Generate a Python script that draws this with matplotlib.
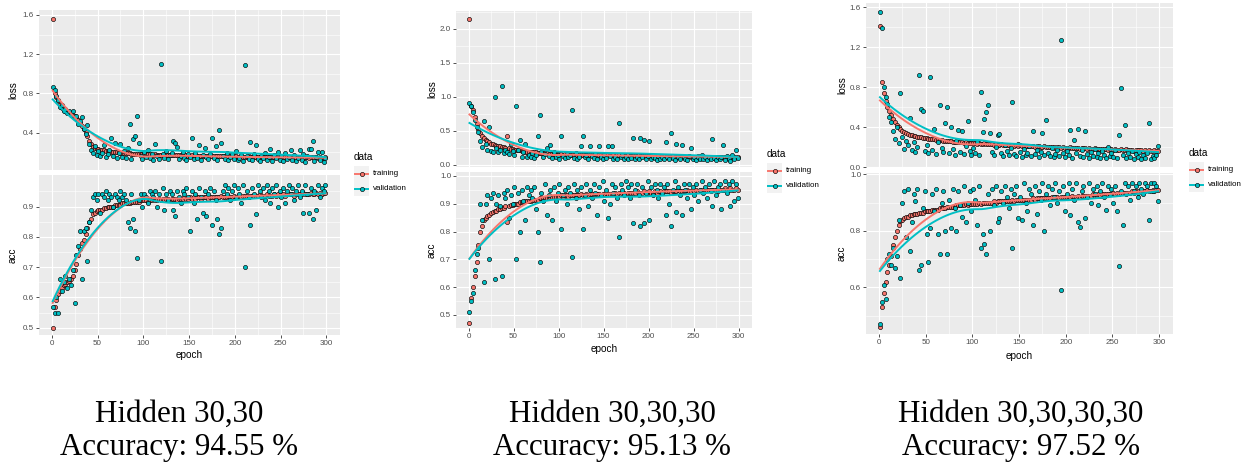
"""
Training history of three dense networks (keras-style loss / acc facets)
with the test accuracy of each network written underneath.
"""

import numpy as np
import matplotlib
matplotlib.use("Agg")
import matplotlib.pyplot as plt
from matplotlib.patches import Rectangle

plt.rcParams["font.family"] = "Liberation Sans"

W, H = 1250, 466

TRAIN_FILL = "#F8766D"
VAL_FILL = "#00BFC4"
PANEL_BG = "#EBEBEB"

# ---------------------------------------------------------------------------
# Data (every second epoch of the 300 training epochs)
# ---------------------------------------------------------------------------
epochs = np.arange(1, 301, 2)

hidden_layers = ["30,30", "30,30,30", "30,30,30,30"]
test_accuracy = [94.55, 95.13, 97.52]

loss_train_1 = [
    1.56, 0.80, 0.76, 0.72, 0.68, 0.65, 0.63, 0.62, 0.61, 0.60,
    0.60, 0.58, 0.57, 0.55, 0.53, 0.50, 0.47, 0.44, 0.41, 0.37,
    0.32, 0.28, 0.25, 0.24, 0.23, 0.23, 0.22, 0.22, 0.22, 0.21,
    0.21, 0.21, 0.20, 0.20, 0.20, 0.20, 0.20, 0.19, 0.19, 0.19,
    0.19, 0.19, 0.19, 0.18, 0.18, 0.18, 0.18, 0.18, 0.18, 0.18,
    0.18, 0.18, 0.18, 0.18, 0.17, 0.17, 0.18, 0.17, 0.17, 0.17,
    0.17, 0.17, 0.17, 0.17, 0.17, 0.17, 0.17, 0.17, 0.17, 0.17,
    0.17, 0.17, 0.16, 0.17, 0.16, 0.16, 0.17, 0.16, 0.16, 0.16,
    0.16, 0.16, 0.16, 0.16, 0.16, 0.16, 0.16, 0.16, 0.16, 0.16,
    0.16, 0.16, 0.16, 0.16, 0.16, 0.16, 0.15, 0.16, 0.16, 0.16,
    0.16, 0.15, 0.15, 0.16, 0.15, 0.15, 0.15, 0.16, 0.15, 0.15,
    0.15, 0.15, 0.15, 0.15, 0.15, 0.15, 0.15, 0.15, 0.15, 0.15,
    0.15, 0.15, 0.15, 0.15, 0.15, 0.15, 0.15, 0.15, 0.15, 0.15,
    0.15, 0.15, 0.15, 0.14, 0.15, 0.15, 0.15, 0.14, 0.15, 0.15,
    0.14, 0.15, 0.15, 0.14, 0.15, 0.14, 0.15, 0.14, 0.14, 0.15,
]
loss_val_1 = [
    0.87, 0.84, 0.77, 0.73, 0.66, 0.68, 0.62, 0.64, 0.60, 0.62,
    0.58, 0.62, 0.55, 0.57, 0.49, 0.52, 0.56, 0.44, 0.39, 0.48,
    0.28, 0.22, 0.19, 0.26, 0.17, 0.21, 0.16, 0.19, 0.27, 0.15,
    0.18, 0.22, 0.35, 0.16, 0.29, 0.14, 0.19, 0.28, 0.15, 0.21,
    0.14, 0.24, 0.49, 0.13, 0.34, 0.37, 0.57, 0.29, 0.16, 0.13,
    0.20, 0.15, 0.22, 0.14, 0.18, 0.12, 0.28, 0.16, 0.13, 1.10,
    0.18, 0.14, 0.21, 0.13, 0.17, 0.19, 0.32, 0.30, 0.25, 0.13,
    0.16, 0.20, 0.14, 0.12, 0.18, 0.15, 0.35, 0.13, 0.19, 0.14,
    0.27, 0.12, 0.17, 0.24, 0.15, 0.13, 0.18, 0.35, 0.14, 0.26,
    0.12, 0.43, 0.30, 0.16, 0.13, 0.19, 0.12, 0.15, 0.18, 0.13,
    0.21, 0.12, 0.14, 0.17, 0.11, 1.09, 0.16, 0.13, 0.31, 0.12,
    0.18, 0.27, 0.13, 0.11, 0.16, 0.14, 0.19, 0.12, 0.15, 0.23,
    0.11, 0.17, 0.14, 0.20, 0.12, 0.16, 0.11, 0.19, 0.13, 0.15,
    0.22, 0.12, 0.17, 0.11, 0.14, 0.22, 0.12, 0.18, 0.10, 0.16,
    0.23, 0.23, 0.32, 0.11, 0.15, 0.20, 0.12, 0.20, 0.10, 0.14,
]
acc_train_1 = [
    0.50, 0.57, 0.59, 0.61, 0.62, 0.63, 0.64, 0.645, 0.65, 0.655,
    0.66, 0.67, 0.69, 0.71, 0.74, 0.76, 0.78, 0.79, 0.81, 0.83,
    0.85, 0.86, 0.875, 0.88, 0.885, 0.89, 0.89, 0.89, 0.895, 0.895,
    0.90, 0.90, 0.90, 0.90, 0.905, 0.905, 0.905, 0.905, 0.91, 0.91,
    0.91, 0.91, 0.91, 0.915, 0.915, 0.915, 0.915, 0.915, 0.92, 0.92,
    0.92, 0.92, 0.915, 0.92, 0.92, 0.925, 0.92, 0.92, 0.925, 0.92,
    0.925, 0.92, 0.925, 0.925, 0.92, 0.925, 0.925, 0.925, 0.92, 0.925,
    0.925, 0.925, 0.93, 0.925, 0.925, 0.93, 0.925, 0.93, 0.925, 0.93,
    0.93, 0.925, 0.93, 0.93, 0.93, 0.925, 0.93, 0.93, 0.93, 0.93,
    0.93, 0.93, 0.935, 0.93, 0.93, 0.93, 0.935, 0.93, 0.93, 0.935,
    0.93, 0.935, 0.935, 0.93, 0.935, 0.935, 0.935, 0.93, 0.935, 0.935,
    0.935, 0.935, 0.935, 0.94, 0.935, 0.935, 0.935, 0.94, 0.935, 0.935,
    0.935, 0.94, 0.935, 0.94, 0.935, 0.94, 0.94, 0.935, 0.94, 0.94,
    0.94, 0.94, 0.935, 0.94, 0.94, 0.94, 0.94, 0.945, 0.94, 0.94,
    0.94, 0.945, 0.94, 0.94, 0.945, 0.94, 0.945, 0.94, 0.945, 0.945,
]
acc_val_1 = [
    0.57, 0.55, 0.60, 0.55, 0.66, 0.62, 0.65, 0.67, 0.63, 0.66,
    0.64, 0.69, 0.58, 0.74, 0.77, 0.82, 0.66, 0.82, 0.83, 0.72,
    0.85, 0.89, 0.93, 0.94, 0.92, 0.94, 0.88, 0.94, 0.93, 0.95,
    0.92, 0.94, 0.93, 0.90, 0.94, 0.93, 0.92, 0.95, 0.93, 0.94,
    0.92, 0.85, 0.83, 0.94, 0.86, 0.82, 0.73, 0.92, 0.94, 0.90,
    0.94, 0.93, 0.91, 0.95, 0.94, 0.93, 0.95, 0.90, 0.94, 0.72,
    0.96, 0.89, 0.94, 0.92, 0.95, 0.94, 0.89, 0.87, 0.95, 0.93,
    0.91, 0.95, 0.94, 0.96, 0.93, 0.82, 0.95, 0.91, 0.94, 0.86,
    0.96, 0.93, 0.88, 0.95, 0.87, 0.94, 0.96, 0.84, 0.95, 0.92,
    0.86, 0.81, 0.83, 0.95, 0.97, 0.94, 0.96, 0.92, 0.95, 0.97,
    0.93, 0.96, 0.94, 0.91, 0.97, 0.70, 0.95, 0.93, 0.84, 0.96,
    0.94, 0.875, 0.97, 0.95, 0.93, 0.96, 0.92, 0.97, 0.95, 0.91,
    0.96, 0.94, 0.97, 0.90, 0.95, 0.93, 0.96, 0.91, 0.95, 0.97,
    0.94, 0.96, 0.92, 0.95, 0.97, 0.93, 0.95, 0.88, 0.97, 0.94,
    0.88, 0.96, 0.86, 0.95, 0.89, 0.97, 0.93, 0.96, 0.95, 0.97,
]

loss_train_2 = [
    2.15, 0.87, 0.80, 0.70, 0.60, 0.52, 0.46, 0.42, 0.39, 0.37,
    0.35, 0.33, 0.31, 0.30, 0.29, 0.28, 0.28, 0.27, 0.26, 0.26,
    0.25, 0.42, 0.24, 0.23, 0.23, 0.22, 0.22, 0.21, 0.21, 0.20,
    0.20, 0.19, 0.19, 0.19, 0.18, 0.18, 0.18, 0.18, 0.17, 0.17,
    0.17, 0.17, 0.17, 0.17, 0.16, 0.16, 0.16, 0.16, 0.16, 0.16,
    0.16, 0.16, 0.15, 0.16, 0.15, 0.15, 0.15, 0.15, 0.15, 0.15,
    0.15, 0.15, 0.15, 0.14, 0.15, 0.15, 0.14, 0.15, 0.14, 0.14,
    0.14, 0.14, 0.14, 0.14, 0.14, 0.14, 0.14, 0.14, 0.14, 0.14,
    0.14, 0.13, 0.14, 0.14, 0.13, 0.14, 0.13, 0.13, 0.14, 0.13,
    0.13, 0.13, 0.13, 0.13, 0.14, 0.13, 0.13, 0.13, 0.13, 0.13,
    0.13, 0.13, 0.12, 0.13, 0.13, 0.13, 0.12, 0.13, 0.13, 0.12,
    0.13, 0.12, 0.12, 0.13, 0.12, 0.12, 0.13, 0.12, 0.12, 0.12,
    0.12, 0.12, 0.13, 0.12, 0.12, 0.12, 0.12, 0.13, 0.12, 0.12,
    0.12, 0.12, 0.12, 0.11, 0.12, 0.12, 0.12, 0.11, 0.12, 0.12,
    0.12, 0.11, 0.12, 0.11, 0.12, 0.11, 0.12, 0.11, 0.11, 0.12,
]
loss_val_2 = [
    0.91, 0.86, 0.78, 0.66, 0.55, 0.48, 0.35, 0.26, 0.65, 0.30,
    0.22, 0.56, 0.20, 0.19, 1.00, 0.24, 0.18, 0.22, 1.16, 0.17,
    0.21, 0.19, 0.16, 0.30, 0.20, 0.14, 0.87, 0.22, 0.36, 0.12,
    0.18, 0.31, 0.11, 0.15, 0.12, 0.17, 0.10, 0.14, 0.43, 0.73,
    0.19, 0.11, 0.16, 0.25, 0.13, 0.29, 0.10, 0.18, 0.12, 0.15,
    0.09, 0.43, 0.13, 0.10, 0.16, 0.11, 0.14, 0.80, 0.10, 0.17,
    0.09, 0.12, 0.28, 0.42, 0.11, 0.15, 0.09, 0.27, 0.13, 0.10,
    0.16, 0.08, 0.27, 0.12, 0.09, 0.14, 0.10, 0.27, 0.13, 0.27,
    0.09, 0.12, 0.08, 0.61, 0.11, 0.14, 0.09, 0.12, 0.08, 0.13,
    0.10, 0.39, 0.09, 0.12, 0.08, 0.39, 0.11, 0.36, 0.09, 0.13,
    0.35, 0.08, 0.12, 0.10, 0.07, 0.13, 0.09, 0.11, 0.08, 0.34,
    0.12, 0.09, 0.46, 0.10, 0.07, 0.30, 0.11, 0.08, 0.29, 0.12,
    0.09, 0.07, 0.13, 0.25, 0.08, 0.11, 0.07, 0.12, 0.09, 0.14,
    0.08, 0.11, 0.07, 0.12, 0.09, 0.38, 0.10, 0.07, 0.12, 0.08,
    0.11, 0.29, 0.07, 0.13, 0.09, 0.06, 0.15, 0.08, 0.22, 0.10,
]
acc_train_2 = [
    0.47, 0.56, 0.60, 0.64, 0.69, 0.75, 0.80, 0.82, 0.84, 0.85,
    0.855, 0.86, 0.865, 0.87, 0.875, 0.875, 0.88, 0.88, 0.885, 0.885,
    0.89, 0.835, 0.89, 0.895, 0.895, 0.90, 0.90, 0.90, 0.905, 0.905,
    0.905, 0.91, 0.91, 0.91, 0.91, 0.915, 0.915, 0.915, 0.915, 0.92,
    0.92, 0.92, 0.92, 0.92, 0.92, 0.925, 0.925, 0.925, 0.925, 0.925,
    0.925, 0.93, 0.925, 0.93, 0.93, 0.925, 0.93, 0.93, 0.93, 0.93,
    0.93, 0.93, 0.935, 0.93, 0.93, 0.935, 0.93, 0.935, 0.935, 0.93,
    0.935, 0.935, 0.935, 0.93, 0.935, 0.935, 0.94, 0.935, 0.935, 0.935,
    0.935, 0.94, 0.935, 0.94, 0.935, 0.94, 0.94, 0.935, 0.94, 0.94,
    0.94, 0.94, 0.94, 0.945, 0.94, 0.94, 0.94, 0.945, 0.94, 0.94,
    0.945, 0.94, 0.94, 0.945, 0.94, 0.945, 0.945, 0.94, 0.945, 0.945,
    0.945, 0.945, 0.94, 0.945, 0.945, 0.945, 0.95, 0.945, 0.945, 0.945,
    0.945, 0.95, 0.945, 0.945, 0.95, 0.945, 0.95, 0.945, 0.95, 0.945,
    0.95, 0.945, 0.95, 0.95, 0.945, 0.95, 0.95, 0.95, 0.945, 0.95,
    0.95, 0.95, 0.955, 0.95, 0.95, 0.955, 0.95, 0.95, 0.955, 0.95,
]
acc_val_2 = [
    0.51, 0.55, 0.58, 0.66, 0.72, 0.74, 0.90, 0.84, 0.62, 0.90,
    0.93, 0.70, 0.92, 0.94, 0.63, 0.90, 0.93, 0.89, 0.64, 0.94,
    0.92, 0.95, 0.85, 0.93, 0.90, 0.96, 0.70, 0.94, 0.80, 0.95,
    0.91, 0.84, 0.96, 0.93, 0.95, 0.92, 0.96, 0.88, 0.80, 0.69,
    0.94, 0.91, 0.97, 0.86, 0.93, 0.95, 0.84, 0.96, 0.91, 0.94,
    0.97, 0.81, 0.93, 0.95, 0.90, 0.96, 0.94, 0.71, 0.97, 0.92,
    0.95, 0.88, 0.96, 0.81, 0.93, 0.97, 0.89, 0.95, 0.92, 0.97,
    0.94, 0.86, 0.96, 0.93, 0.98, 0.91, 0.95, 0.85, 0.90, 0.97,
    0.94, 0.96, 0.92, 0.78, 0.97, 0.95, 0.93, 0.98, 0.96, 0.92,
    0.97, 0.83, 0.95, 0.97, 0.93, 0.82, 0.96, 0.83, 0.94, 0.98,
    0.84, 0.96, 0.93, 0.97, 0.95, 0.92, 0.97, 0.94, 0.96, 0.86,
    0.97, 0.90, 0.82, 0.95, 0.98, 0.87, 0.96, 0.93, 0.86, 0.97,
    0.95, 0.92, 0.97, 0.88, 0.96, 0.93, 0.97, 0.91, 0.95, 0.98,
    0.94, 0.96, 0.92, 0.97, 0.95, 0.89, 0.98, 0.93, 0.96, 0.97,
    0.88, 0.95, 0.98, 0.94, 0.97, 0.89, 0.98, 0.91, 0.97, 0.92,
]

loss_train_3 = [
    1.41, 0.85, 0.74, 0.66, 0.60, 0.56, 0.52, 0.48, 0.45, 0.42,
    0.40, 0.38, 0.36, 0.35, 0.34, 0.33, 0.32, 0.32, 0.31, 0.31,
    0.30, 0.30, 0.30, 0.29, 0.29, 0.29, 0.28, 0.28, 0.28, 0.28,
    0.27, 0.27, 0.27, 0.27, 0.26, 0.26, 0.26, 0.26, 0.26, 0.25,
    0.25, 0.25, 0.25, 0.25, 0.25, 0.24, 0.25, 0.24, 0.24, 0.24,
    0.24, 0.24, 0.23, 0.24, 0.23, 0.23, 0.24, 0.23, 0.23, 0.23,
    0.23, 0.22, 0.23, 0.22, 0.22, 0.23, 0.22, 0.22, 0.22, 0.22,
    0.22, 0.22, 0.21, 0.22, 0.21, 0.22, 0.21, 0.21, 0.21, 0.21,
    0.21, 0.21, 0.21, 0.20, 0.21, 0.21, 0.20, 0.20, 0.21, 0.20,
    0.20, 0.20, 0.20, 0.20, 0.19, 0.20, 0.20, 0.19, 0.20, 0.19,
    0.19, 0.19, 0.20, 0.19, 0.19, 0.19, 0.19, 0.18, 0.19, 0.19,
    0.19, 0.18, 0.19, 0.18, 0.18, 0.19, 0.18, 0.18, 0.18, 0.18,
    0.18, 0.18, 0.17, 0.18, 0.18, 0.17, 0.18, 0.17, 0.17, 0.18,
    0.17, 0.17, 0.18, 0.17, 0.17, 0.17, 0.16, 0.17, 0.17, 0.17,
    0.17, 0.16, 0.17, 0.16, 0.17, 0.16, 0.16, 0.17, 0.16, 0.16,
]
loss_val_3 = [
    1.55, 1.39, 0.80, 0.70, 0.63, 0.50, 0.45, 0.36, 0.28, 0.40,
    0.24, 0.74, 0.30, 0.18, 0.26, 0.22, 0.49, 0.17, 0.25, 0.15,
    0.20, 0.92, 0.58, 0.56, 0.16, 0.22, 0.14, 0.90, 0.17, 0.38,
    0.13, 0.25, 0.62, 0.19, 0.15, 0.44, 0.60, 0.14, 0.40, 0.18,
    0.12, 0.26, 0.37, 0.15, 0.36, 0.13, 0.21, 0.46, 0.16, 0.12,
    0.19, 0.14, 0.25, 0.12, 0.75, 0.35, 0.48, 0.55, 0.62, 0.34,
    0.15, 0.12, 0.20, 0.32, 0.33, 0.14, 0.11, 0.22, 0.16, 0.12,
    0.19, 0.65, 0.13, 0.11, 0.23, 0.15, 0.10, 0.18, 0.12, 0.14,
    0.21, 0.11, 0.36, 0.13, 0.17, 0.10, 0.15, 0.34, 0.12, 0.47,
    0.14, 0.11, 0.19, 0.10, 0.13, 0.17, 0.11, 1.27, 0.14, 0.10,
    0.16, 0.12, 0.37, 0.09, 0.27, 0.14, 0.38, 0.11, 0.17, 0.10,
    0.36, 0.13, 0.09, 0.15, 0.11, 0.18, 0.10, 0.14, 0.09, 0.16,
    0.12, 0.09, 0.20, 0.11, 0.14, 0.10, 0.17, 0.09, 0.32, 0.79,
    0.12, 0.42, 0.09, 0.14, 0.10, 0.16, 0.08, 0.13, 0.10, 0.15,
    0.08, 0.12, 0.09, 0.14, 0.44, 0.08, 0.11, 0.09, 0.12, 0.21,
]
acc_train_3 = [
    0.46, 0.53, 0.58, 0.62, 0.655, 0.68, 0.71, 0.75, 0.78, 0.80,
    0.82, 0.835, 0.84, 0.845, 0.85, 0.85, 0.855, 0.855, 0.86, 0.86,
    0.86, 0.865, 0.865, 0.865, 0.87, 0.87, 0.87, 0.87, 0.875, 0.875,
    0.875, 0.875, 0.88, 0.88, 0.88, 0.88, 0.885, 0.885, 0.885, 0.885,
    0.885, 0.89, 0.89, 0.89, 0.89, 0.89, 0.895, 0.89, 0.895, 0.895,
    0.895, 0.895, 0.895, 0.90, 0.895, 0.90, 0.90, 0.90, 0.90, 0.90,
    0.90, 0.905, 0.90, 0.905, 0.905, 0.905, 0.905, 0.905, 0.905, 0.905,
    0.905, 0.91, 0.905, 0.91, 0.91, 0.91, 0.91, 0.91, 0.91, 0.91,
    0.91, 0.91, 0.915, 0.91, 0.915, 0.915, 0.915, 0.915, 0.915, 0.915,
    0.915, 0.915, 0.92, 0.915, 0.92, 0.92, 0.915, 0.92, 0.92, 0.92,
    0.92, 0.92, 0.92, 0.925, 0.92, 0.92, 0.925, 0.92, 0.925, 0.925,
    0.925, 0.925, 0.925, 0.925, 0.93, 0.925, 0.925, 0.93, 0.925, 0.93,
    0.93, 0.93, 0.93, 0.93, 0.93, 0.935, 0.93, 0.935, 0.93, 0.935,
    0.935, 0.935, 0.935, 0.935, 0.935, 0.94, 0.935, 0.94, 0.935, 0.94,
    0.94, 0.94, 0.94, 0.945, 0.94, 0.94, 0.945, 0.94, 0.945, 0.945,
]
acc_val_3 = [
    0.47, 0.55, 0.61, 0.56, 0.70, 0.72, 0.68, 0.74, 0.67, 0.71,
    0.84, 0.635, 0.90, 0.94, 0.78, 0.95, 0.73, 0.83, 0.93, 0.905,
    0.95, 0.66, 0.68, 0.88, 0.94, 0.79, 0.69, 0.81, 0.93, 0.87,
    0.95, 0.79, 0.72, 0.90, 0.94, 0.80, 0.72, 0.91, 0.81, 0.95,
    0.88, 0.80, 0.94, 0.89, 0.85, 0.96, 0.83, 0.90, 0.94, 0.87,
    0.95, 0.91, 0.82, 0.96, 0.74, 0.79, 0.755, 0.72, 0.93, 0.80,
    0.95, 0.89, 0.96, 0.83, 0.845, 0.94, 0.90, 0.96, 0.92, 0.88,
    0.95, 0.74, 0.93, 0.96, 0.845, 0.92, 0.84, 0.97, 0.90, 0.87,
    0.95, 0.93, 0.82, 0.96, 0.86, 0.94, 0.91, 0.97, 0.80, 0.93,
    0.96, 0.89, 0.95, 0.92, 0.97, 0.90, 0.94, 0.59, 0.96, 0.87,
    0.93, 0.97, 0.855, 0.95, 0.91, 0.97, 0.83, 0.815, 0.94, 0.96,
    0.845, 0.92, 0.97, 0.90, 0.95, 0.93, 0.96, 0.89, 0.94, 0.97,
    0.92, 0.875, 0.96, 0.93, 0.95, 0.90, 0.96, 0.87, 0.676, 0.94,
    0.82, 0.97, 0.93, 0.96, 0.91, 0.97, 0.94, 0.96, 0.92, 0.97,
    0.95, 0.93, 0.97, 0.96, 0.84, 0.97, 0.94, 0.97, 0.96, 0.905,
]

RUNS = [
    (loss_train_1, loss_val_1, acc_train_1, acc_val_1),
    (loss_train_2, loss_val_2, acc_train_2, acc_val_2),
    (loss_train_3, loss_val_3, acc_train_3, acc_val_3),
]

# ---------------------------------------------------------------------------
# Layout (figure pixels, y measured from the top)
# ---------------------------------------------------------------------------
LAYOUT = [
    dict(x0=39, x1=340, loss=(10, 170), acc=(175, 335), strip_x=13,
         xlabel_y=355, legend=(354, 157), caption_x=179),
    dict(x0=456, x1=752, loss=(11, 167), acc=(172, 328), strip_x=432,
         xlabel_y=349, legend=(767, 154), caption_x=612),
    dict(x0=866, x1=1173, loss=(3, 167), acc=(173, 334), strip_x=842,
         xlabel_y=356, legend=(1189, 153), caption_x=1021),
]
LOSS_SCALE = [
    ((0.02, 1.65), [0.4, 0.8, 1.2, 1.6], [0.2, 0.6, 1.0, 1.4]),
    ((-0.034, 2.265), [0.0, 0.5, 1.0, 1.5, 2.0], [0.25, 0.75, 1.25, 1.75, 2.25]),
    ((0.003, 1.643), [0.0, 0.4, 0.8, 1.2, 1.6], [0.2, 0.6, 1.0, 1.4]),
]
ACC_SCALE = [
    ((0.476, 1.004), [0.5, 0.6, 0.7, 0.8, 0.9], [0.55, 0.65, 0.75, 0.85, 0.95]),
    ((0.453, 1.014), [0.5, 0.6, 0.7, 0.8, 0.9, 1.0], [0.55, 0.65, 0.75, 0.85, 0.95]),
    ((0.435, 1.005), [0.6, 0.8, 1.0], [0.5, 0.7, 0.9]),
]
XLIM = (1 - 14.95, 300 + 14.95)
X_MAJOR = [0, 50, 100, 150, 200, 250, 300]
X_MINOR = [25, 75, 125, 175, 225, 275]


def loess(x, y, x_new, span=0.75):
    """Local quadratic fit with tricube weights (R's loess defaults)."""
    x = np.asarray(x, float)
    y = np.asarray(y, float)
    n = len(x)
    q = int(np.floor(n * span))
    fitted = np.empty(len(x_new))
    for i, x0 in enumerate(x_new):
        d = np.abs(x - x0)
        h = np.sort(d)[q - 1]
        w = np.clip(1 - (d / h) ** 3, 0, None) ** 3
        sw = np.sqrt(w)
        X = np.column_stack([np.ones(n), x - x0, (x - x0) ** 2])
        coef = np.linalg.lstsq(X * sw[:, None], y * sw, rcond=None)[0]
        fitted[i] = coef[0]
    return fitted


def px_axes(fig, left, top, right, bottom):
    return fig.add_axes([left / W, 1 - bottom / H, (right - left) / W, (bottom - top) / H])


def style_facet(ax, scale, show_x):
    ylim, yticks, yminor = scale
    ax.set_facecolor(PANEL_BG)
    for s in ax.spines.values():
        s.set_visible(False)
    ax.set_xlim(XLIM)
    ax.set_ylim(ylim)
    ax.set_xticks(X_MAJOR)
    ax.set_xticks(X_MINOR, minor=True)
    ax.set_yticks(yticks)
    ax.set_yticks(yminor, minor=True)
    ax.set_yticklabels([f"{t:.1f}" for t in yticks])
    ax.set_axisbelow(True)
    ax.grid(which="major", color="white", linewidth=0.85)
    ax.grid(which="minor", color="white", linewidth=0.4)
    ax.tick_params(which="major", length=2, width=0.6, color="#333333",
                   labelsize=5.8, labelcolor="#4D4D4D", pad=1.5)
    ax.tick_params(which="minor", length=0)
    if not show_x:
        ax.tick_params(axis="x", which="both", bottom=False, labelbottom=False)


def draw_series(ax, train, val):
    ax.scatter(epochs, train, s=9, c=TRAIN_FILL, edgecolors="black",
               linewidths=0.45, zorder=2)
    ax.scatter(epochs, val, s=9, c=VAL_FILL, edgecolors="black",
               linewidths=0.45, zorder=3)
    grid = np.linspace(epochs.min(), epochs.max(), 80)
    ax.plot(grid, loess(epochs, train, grid), color=TRAIN_FILL, lw=1.4, zorder=4)
    ax.plot(grid, loess(epochs, val, grid), color=VAL_FILL, lw=1.4, zorder=5)


def draw_legend(ov, left, top):
    ov.text(left, top, "data", fontsize=7.2, ha="left", va="center")
    for i, (name, colour) in enumerate([("training", TRAIN_FILL), ("validation", VAL_FILL)]):
        y0 = top + 9 + 15 * i
        cy = y0 + 7.5
        ov.add_patch(Rectangle((left, y0), 15, 15, facecolor="#F2F2F2", edgecolor="none"))
        ov.plot([left + 1, left + 14], [cy, cy], color=colour, lw=1.4)
        ov.scatter([left + 7.5], [cy], s=9, c=colour, edgecolors="black",
                   linewidths=0.45, zorder=3)
        ov.text(left + 19, cy, name, fontsize=5.8, ha="left", va="center")


fig = plt.figure(figsize=(W / 100, H / 100), dpi=100)

for run, lay, lscale, ascale, hidden, acc in zip(RUNS, LAYOUT, LOSS_SCALE, ACC_SCALE,
                                                  hidden_layers, test_accuracy):
    loss_tr, loss_va, acc_tr, acc_va = run

    ax_loss = px_axes(fig, lay["x0"], lay["loss"][0], lay["x1"], lay["loss"][1])
    style_facet(ax_loss, lscale, show_x=False)
    draw_series(ax_loss, loss_tr, loss_va)

    ax_acc = px_axes(fig, lay["x0"], lay["acc"][0], lay["x1"], lay["acc"][1])
    style_facet(ax_acc, ascale, show_x=True)
    draw_series(ax_acc, acc_tr, acc_va)

# overlay in pixel coordinates for strips, legends and captions
ov = fig.add_axes([0, 0, 1, 1])
ov.set_xlim(0, W)
ov.set_ylim(H, 0)
ov.axis("off")

for lay, hidden, acc in zip(LAYOUT, hidden_layers, test_accuracy):
    for name, (top, bottom) in (("loss", lay["loss"]), ("acc", lay["acc"])):
        ov.text(lay["strip_x"], (top + bottom) / 2, name, rotation=90,
                fontsize=7.2, ha="center", va="center")
    ov.text((lay["x0"] + lay["x1"]) / 2, lay["xlabel_y"], "epoch",
            fontsize=7.2, ha="center", va="center")
    draw_legend(ov, *lay["legend"])

    ov.text(lay["caption_x"], 421.5, f"Hidden {hidden}", family="Liberation Serif",
            fontsize=22.3, ha="center", va="baseline")
    ov.text(lay["caption_x"], 455.5, f"Accuracy: {acc:.2f} %", family="Liberation Serif",
            fontsize=22.3, ha="center", va="baseline")

fig.savefig("out.png", dpi=100)
